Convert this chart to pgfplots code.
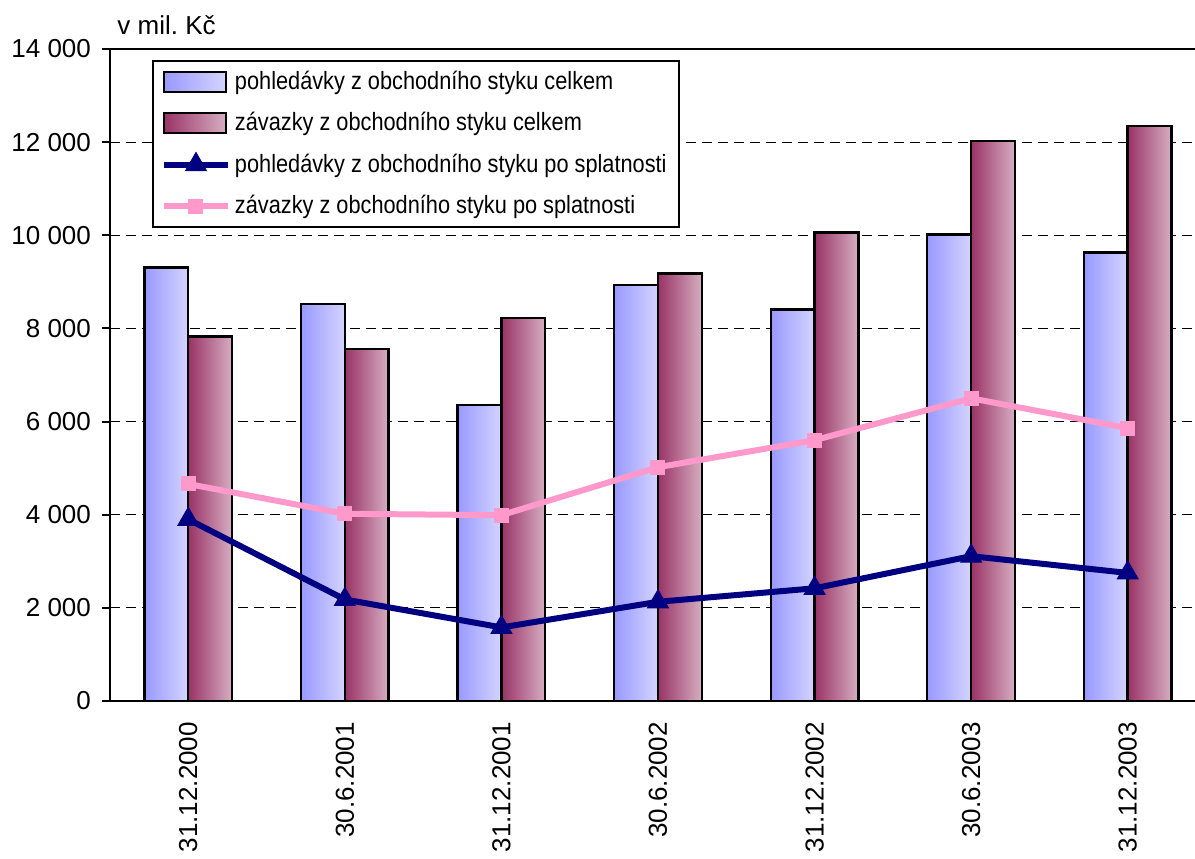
\documentclass[border=0pt]{standalone}
\usepackage{fontspec}
\setmainfont{Liberation Sans}
\newfontfamily\narrowfont[FakeStretch=0.87]{Liberation Sans}
\usepackage{pgfplots}
\pgfplotsset{compat=1.18}

\definecolor{blueL}{HTML}{9999FF}
\definecolor{blueR}{HTML}{D4D4FF}
\definecolor{maroonL}{HTML}{993366}
\definecolor{maroonR}{HTML}{D6AEC2}
\definecolor{navyline}{HTML}{000080}
\definecolor{pinkline}{HTML}{FF99CC}

\pgfplotsset{
  barlegend/.style={legend image code/.code={\draw[##1, line width=1.2pt] (0pt,-5pt) rectangle (31pt,5pt);}},
  linelegend/.style={legend image code/.code={\draw[##1, mark repeat=2, mark phase=2] plot coordinates {(0pt,0pt) (16pt,0pt) (32pt,0pt)};}},
  bluebar/.style={ybar, bar width=0.28, bar shift=-0.14, draw=black, line width=1.2pt,
    left color=blueL, right color=blueR, barlegend},
  maroonbar/.style={ybar, bar width=0.28, bar shift=0.14, draw=black, line width=1.2pt,
    left color=maroonL, right color=maroonR, barlegend},
}

\begin{document}
\begin{tikzpicture}[font={\fontsize{13}{15}\selectfont}]
\begin{axis}[
    scale only axis, width=542.5pt, height=326pt,
    axis lines*=left, axis line style={line width=1.2pt},
    xmin=-0.5, xmax=6.43, ymin=0, ymax=14000,
    ytick={0,2000,...,14000}, scaled y ticks=false,
    /pgf/number format/.cd, 1000 sep={\ }, assume math mode=true, /pgfplots/.cd,
    yticklabel style={font=\fontsize{13}{15}\selectfont, xshift=-2pt},
    xtick={0,1,...,6},
    xticklabels={31.12.2000,30.6.2001,31.12.2001,30.6.2002,31.12.2002,30.6.2003,31.12.2003},
    xticklabel style={rotate=90, anchor=east, font=\fontsize{13}{15}\selectfont, xshift=-3pt},
    xtick style={draw=none},
    minor xtick={0.5,1.5,...,5.5},
    minor tick length=4pt, major tick length=4pt,
    tick align=outside, tick style={black, line width=1pt},
    ymajorgrids, major grid style={black, dash pattern=on 5pt off 3pt, line width=0.6pt},
    legend cell align=left,
    legend style={at={(axis description cs:0.0387,0.983)}, anchor=north west,
        font=\narrowfont\fontsize{12.5}{14}\selectfont, draw=black, line width=1pt,
        inner xsep=4pt, inner ysep=3pt, row sep=6pt},
]
% one plot per bar so that each bar gets its own shading
\addplot[bluebar] coordinates {(0,9310)};
\addlegendentry{pohledávky z obchodního styku celkem}
\addplot[maroonbar] coordinates {(0,7830)};
\addlegendentry{závazky z obchodního styku celkem}
\addplot[bluebar, forget plot] coordinates {(1,8520)};
\addplot[bluebar, forget plot] coordinates {(2,6360)};
\addplot[bluebar, forget plot] coordinates {(3,8930)};
\addplot[bluebar, forget plot] coordinates {(4,8410)};
\addplot[bluebar, forget plot] coordinates {(5,10020)};
\addplot[bluebar, forget plot] coordinates {(6,9630)};
\addplot[maroonbar, forget plot] coordinates {(1,7560)};
\addplot[maroonbar, forget plot] coordinates {(2,8220)};
\addplot[maroonbar, forget plot] coordinates {(3,9180)};
\addplot[maroonbar, forget plot] coordinates {(4,10060)};
\addplot[maroonbar, forget plot] coordinates {(5,12020)};
\addplot[maroonbar, forget plot] coordinates {(6,12350)};
% po splatnosti
\addplot[navyline, line width=3pt, mark=triangle*, mark size=6pt,
    mark options={solid, line width=0.5pt, fill=navyline}, linelegend]
    coordinates {(0,3900) (1,2180) (2,1580) (3,2130) (4,2420) (5,3110) (6,2750)};
\addlegendentry{pohledávky z obchodního styku po splatnosti}
\addplot[pinkline, line width=3pt, mark=square*, mark size=3.5pt,
    mark options={solid, line width=0.5pt, fill=pinkline}, linelegend]
    coordinates {(0,4660) (1,4020) (2,3990) (3,5020) (4,5600) (5,6500) (6,5860)};
\addlegendentry{závazky z obchodního styku po splatnosti}
\draw[line width=1.2pt] (rel axis cs:0,1) -- (rel axis cs:1,1);
\coordinate (bl) at (rel axis cs:0,0);
\coordinate (tl) at (rel axis cs:0,1);
\coordinate (tr) at (rel axis cs:1,1);
\end{axis}
\node[anchor=base west, inner sep=0pt] at ([shift={(3.5pt,7pt)}]tl) {v mil.\ Kč};
\pgfresetboundingbox
\path ([shift={(-55pt,-78.5pt)}]bl) rectangle ([shift={(0pt,24.5pt)}]tr);
\end{tikzpicture}
\end{document}
